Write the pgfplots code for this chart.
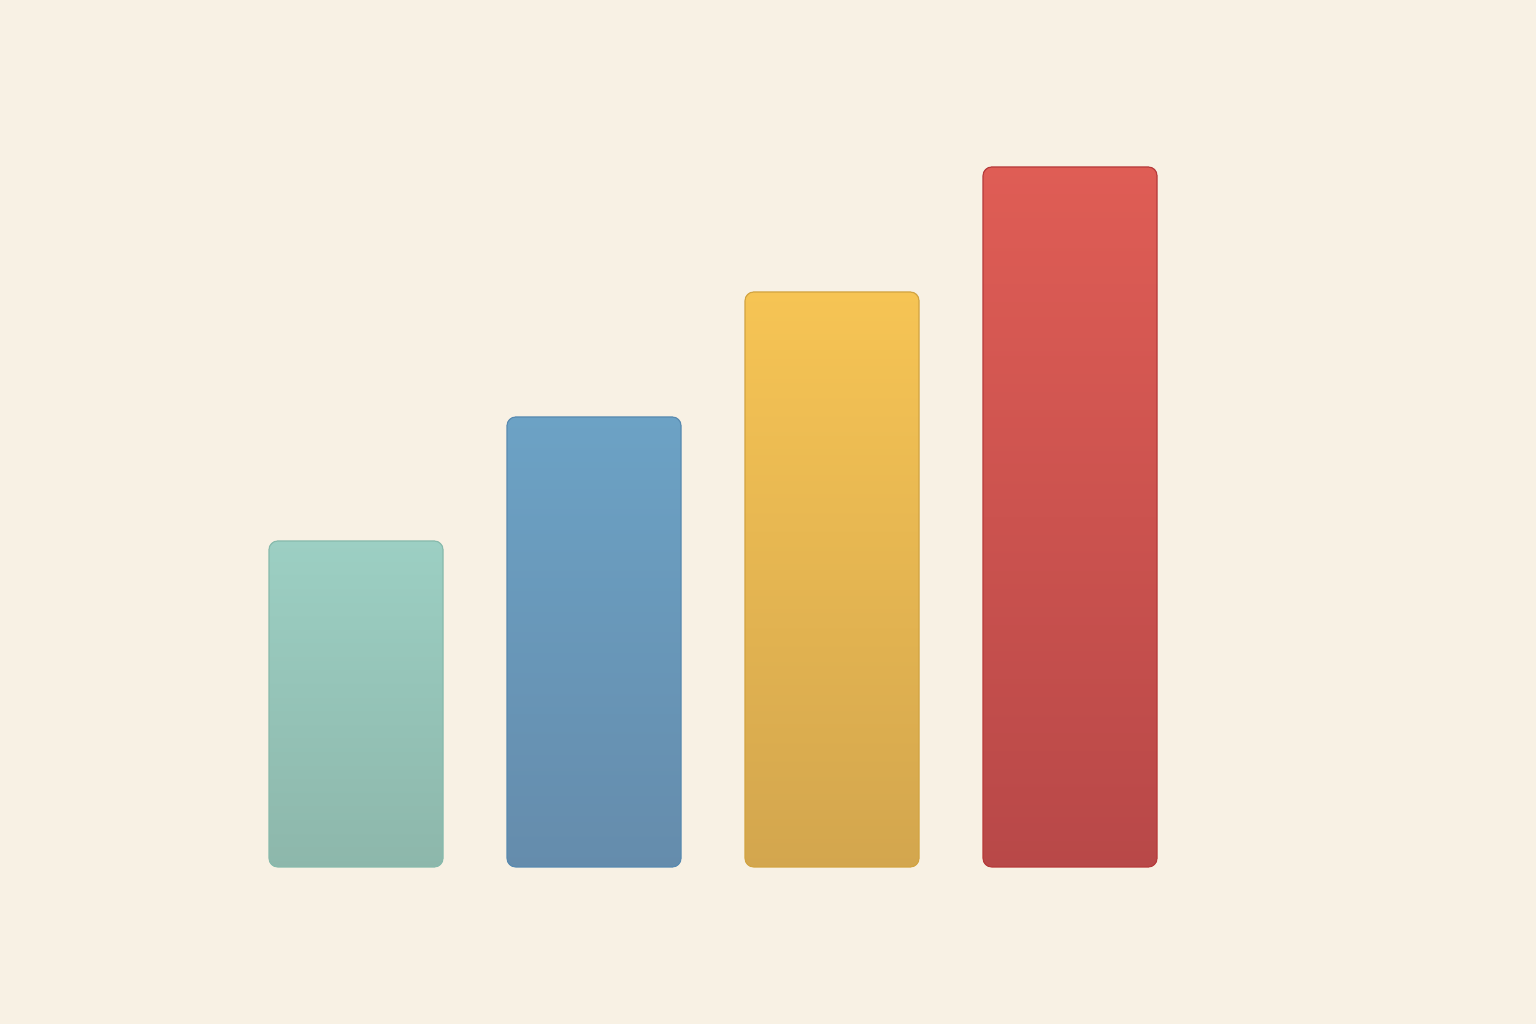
\documentclass[border=0pt]{standalone}
\usepackage{pgfplots}
\pgfplotsset{compat=1.18}
\usetikzlibrary{backgrounds}
\definecolor{bg}{RGB}{248,241,228}
\definecolor{tealT}{RGB}{156,207,195}
\definecolor{tealB}{RGB}{141,183,171}
\definecolor{tealE}{RGB}{135,186,172}
\definecolor{blueT}{RGB}{108,162,197}
\definecolor{blueB}{RGB}{101,140,172}
\definecolor{blueE}{RGB}{88,138,176}
\definecolor{yelT}{RGB}{246,196,84}
\definecolor{yelB}{RGB}{211,166,78}
\definecolor{yelE}{RGB}{210,164,66}
\definecolor{redT}{RGB}{223,93,85}
\definecolor{redB}{RGB}{184,72,72}
\definecolor{redE}{RGB}{182,58,58}
\begin{document}
\begin{tikzpicture}
\begin{axis}[
  scale only axis, width=460.8pt, height=307.2pt,
  hide axis,
  xmin=-1.4958, xmax=4.958,
  ymin=-1.256, ymax=6.936,
  ybar, bar width=52.2pt, bar shift=0pt,
  clip=false,
]
\addplot[top color=tealT, bottom color=tealB, draw=tealE, line width=0.35pt, rounded corners=2.6pt] coordinates {(0,2.608)};
\addplot[top color=blueT, bottom color=blueB, draw=blueE, line width=0.35pt, rounded corners=2.6pt] coordinates {(1,3.6)};
\addplot[top color=yelT, bottom color=yelB, draw=yelE, line width=0.35pt, rounded corners=2.6pt] coordinates {(2,4.6)};
\addplot[top color=redT, bottom color=redB, draw=redE, line width=0.35pt, rounded corners=2.6pt] coordinates {(3,5.6)};
\end{axis}
\begin{scope}[on background layer]
\fill[bg] (current axis.south west) rectangle (current axis.north east);
\end{scope}
\end{tikzpicture}
\end{document}
